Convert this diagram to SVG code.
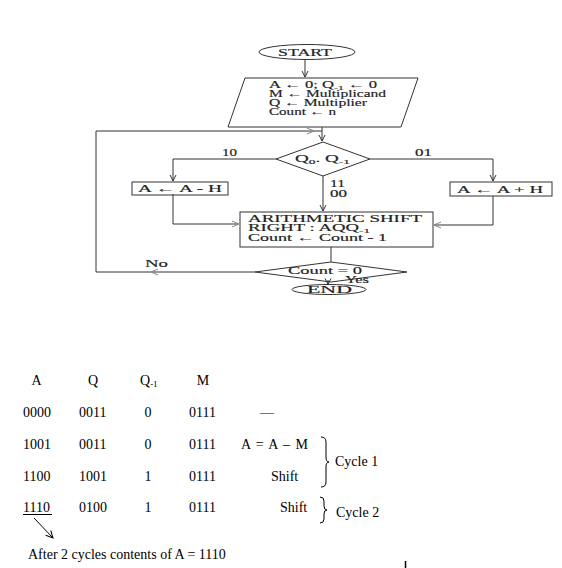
<svg xmlns="http://www.w3.org/2000/svg" width="562" height="568" viewBox="0 0 562 568">
  <defs>
    <style>
      .shape { fill: #fff; stroke: #333; stroke-width: 1; }
      .line { fill: none; stroke: #333; stroke-width: 1; }
      .chev { fill: none; stroke: #888; stroke-width: 1; }
      .fc { font-family: "Liberation Serif", "DejaVu Serif", serif; font-size: 10px; fill: #222; stroke: #222; stroke-width: 0.15; }
      .sub { font-size: 7px; }
      .tb { font-family: "Liberation Serif", "Times New Roman", serif; font-size: 14px; fill: #000; }
      .tsub { font-size: 9px; }
    </style>
    <marker id="arrow" markerWidth="8" markerHeight="8" refX="7" refY="4" orient="auto" markerUnits="userSpaceOnUse">
      <path d="M1,1 L7,4 L1,7" fill="none" stroke="#333" stroke-width="1"/>
    </marker>
    <marker id="arrowSmall" markerWidth="9" markerHeight="9" refX="8" refY="4.5" orient="auto" markerUnits="userSpaceOnUse">
      <path d="M1,1 L8,4.5 L1,8" fill="none" stroke="#000" stroke-width="1"/>
    </marker>
  </defs>

  <rect width="562" height="568" fill="#fff"/>

  <g id="start">
    <ellipse class="shape" cx="307" cy="52" rx="48" ry="7.5"/>
    <text class="fc" x="278" y="56" textLength="54" lengthAdjust="spacingAndGlyphs">START</text>
  </g>

  <g id="init">
    <polygon class="shape" points="245,78 418,78 401,127 228,127"/>
    <text class="fc" x="269" y="88" textLength="108" lengthAdjust="spacingAndGlyphs">A ← 0; Q<tspan class="sub" dy="2">-1</tspan><tspan dy="-2"> ← 0</tspan></text>
    <text class="fc" x="269" y="97" textLength="117" lengthAdjust="spacingAndGlyphs">M ← Multiplicand</text>
    <text class="fc" x="269" y="106" textLength="98" lengthAdjust="spacingAndGlyphs">Q ← Multiplier</text>
    <text class="fc" x="269" y="115" textLength="67" lengthAdjust="spacingAndGlyphs">Count ← n</text>
  </g>

  <g id="decision">
    <polygon class="shape" points="323,142 370,159 323,176 276,159"/>
    <text class="fc" x="295" y="162" textLength="55" lengthAdjust="spacingAndGlyphs">Q<tspan class="sub" dy="1.5">0</tspan><tspan dy="-1.5">. Q</tspan><tspan class="sub" dy="1.5">-1</tspan></text>
  </g>

  <g id="subtract">
    <rect class="shape" x="132" y="182" width="96" height="13"/>
    <text class="fc" x="138" y="192" textLength="84" lengthAdjust="spacingAndGlyphs">A ← A - H</text>
  </g>

  <g id="add">
    <rect class="shape" x="450" y="182" width="102" height="14"/>
    <text class="fc" x="457" y="193" textLength="86" lengthAdjust="spacingAndGlyphs">A ← A + H</text>
  </g>

  <g id="shift">
    <rect class="shape" x="240" y="212" width="193" height="35"/>
    <text class="fc" x="248" y="222" textLength="174" lengthAdjust="spacingAndGlyphs">ARITHMETIC SHIFT</text>
    <text class="fc" x="248" y="231" textLength="122" lengthAdjust="spacingAndGlyphs">RIGHT : AQQ<tspan class="sub" dy="1.5">-1</tspan></text>
    <text class="fc" x="248" y="241" textLength="139" lengthAdjust="spacingAndGlyphs">Count ← Count - 1</text>
  </g>

  <g id="count">
    <polygon class="shape" points="331,262 407,272 331,282 255,272"/>
    <text class="fc" x="288" y="274" textLength="74" lengthAdjust="spacingAndGlyphs">Count = 0</text>
  </g>

  <g id="end">
    <ellipse class="shape" cx="329" cy="289.5" rx="37" ry="5"/>
    <text class="fc" x="307" y="293" textLength="45" lengthAdjust="spacingAndGlyphs">END</text>
  </g>

  <!-- flowchart connectors and branch labels -->
  <g id="connectors">
    <path class="line" d="M305,60 V77" marker-end="url(#arrow)"/>
    <path class="line" d="M322,127 V141" marker-end="url(#arrow)"/>
    <path class="line" d="M255,272 H96 V131 H322"/>
    <path class="chev" d="M158,269 L151,272 L158,275"/>
    <path class="chev" d="M307,128 L314,131 L307,134"/>
    <path class="line" d="M276,159 H173 V181" marker-end="url(#arrow)"/>
    <path class="line" d="M370,159 H493 V181" marker-end="url(#arrow)"/>
    <path class="line" d="M323,176 V211" marker-end="url(#arrow)"/>
    <path class="line" d="M173,194 V224 H239"/>
    <path class="chev" d="M232,221 L239,224 L232,227"/>
    <path class="line" d="M493,196 V225 H434"/>
    <path class="chev" d="M441,222 L434,225 L441,228"/>
    <path class="line" d="M331,247 V262"/>
    <path class="line" d="M328,280 V284.5" marker-end="url(#arrow)"/>
    <text class="fc" x="222" y="156" textLength="15" lengthAdjust="spacingAndGlyphs">10</text>
    <text class="fc" x="415" y="156" textLength="17" lengthAdjust="spacingAndGlyphs">01</text>
    <text class="fc" x="330" y="187" textLength="15" lengthAdjust="spacingAndGlyphs">11</text>
    <text class="fc" x="330" y="197" textLength="17" lengthAdjust="spacingAndGlyphs">00</text>
    <text class="fc" x="145" y="267" textLength="23" lengthAdjust="spacingAndGlyphs">No</text>
    <text class="fc" x="345" y="282.5" textLength="24" lengthAdjust="spacingAndGlyphs">Yes</text>
  </g>

  <!-- register trace table -->
  <g id="table">
    <text class="tb" x="36.5" y="385" text-anchor="middle">A</text>
    <text class="tb" x="93" y="385" text-anchor="middle">Q</text>
    <text class="tb" x="140" y="385">Q<tspan class="tsub" dy="2">-1</tspan></text>
    <text class="tb" x="203" y="385" text-anchor="middle">M</text>

    <text class="tb" x="23" y="417">0000</text>
    <text class="tb" x="79" y="417">0011</text>
    <text class="tb" x="148" y="417" text-anchor="middle">0</text>
    <text class="tb" x="189" y="417">0111</text>
    <text class="tb" x="260" y="417">—</text>

    <text class="tb" x="23" y="449">1001</text>
    <text class="tb" x="79" y="449">0011</text>
    <text class="tb" x="148" y="449" text-anchor="middle">0</text>
    <text class="tb" x="189" y="449">0111</text>
    <text class="tb" x="241" y="449" textLength="67" lengthAdjust="spacing">A = A – M</text>

    <text class="tb" x="23" y="481">1100</text>
    <text class="tb" x="79" y="481">1001</text>
    <text class="tb" x="148" y="481" text-anchor="middle">1</text>
    <text class="tb" x="189" y="481">0111</text>
    <text class="tb" x="271" y="481">Shift</text>

    <text class="tb" x="23" y="512">1110</text>
    <line x1="23" y1="514.5" x2="52" y2="514.5" stroke="#000" stroke-width="1"/>
    <text class="tb" x="79" y="512">0100</text>
    <text class="tb" x="148" y="512" text-anchor="middle">1</text>
    <text class="tb" x="189" y="512">0111</text>
    <text class="tb" x="280" y="512">Shift</text>

    <!-- braces grouping the cycles -->
    <path d="M321,437 Q326,437 326,442 V457 Q326,462 329,462 Q326,462 326,467 V482 Q326,487 321,487" fill="none" stroke="#000" stroke-width="1"/>
    <text class="tb" x="335" y="466">Cycle 1</text>
    <path d="M320,497 Q324,497 324,501 V506 Q324,510 327,510 Q324,510 324,514 V519 Q324,523 320,523" fill="none" stroke="#000" stroke-width="1"/>
    <text class="tb" x="336" y="517">Cycle 2</text>

    <path d="M34,518 L53,538" fill="none" stroke="#000" stroke-width="1" marker-end="url(#arrowSmall)"/>
    <text class="tb" x="28" y="559">After 2 cycles contents of A = 1110</text>

    <line x1="405.5" y1="561" x2="405.5" y2="568" stroke="#000" stroke-width="1.5"/>
  </g>
</svg>
